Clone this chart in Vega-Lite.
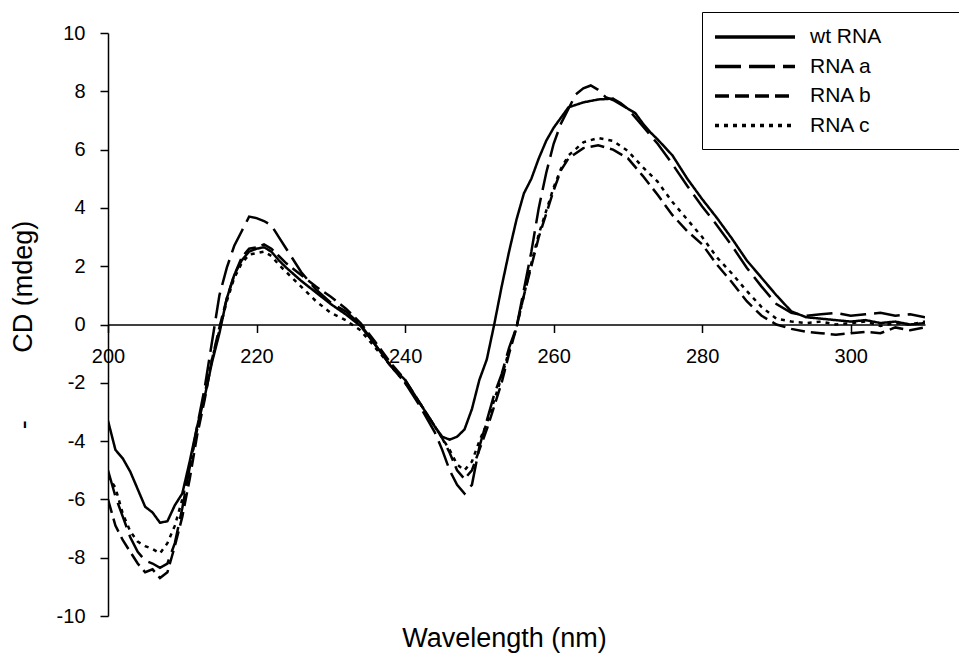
{
  "$schema": "https://vega.github.io/schema/vega-lite/v6.json",
  "width": 817,
  "height": 583,
  "autosize": {"type": "none"},
  "padding": {"left": 108, "top": 33, "right": 34, "bottom": 37},
  "background": "white",
  "config": {
    "view": {"stroke": null},
    "font": "Liberation Sans",
    "axis": {"labelFont": "Liberation Sans", "titleFont": "Liberation Sans", "labelColor": "#000", "titleColor": "#000", "domainColor": "#000", "tickColor": "#000", "grid": false, "titleFontWeight": "normal", "domainWidth": 1.5, "tickWidth": 1.5},
    "legend": {"labelFont": "Liberation Sans", "labelColor": "#000"}
  },
  "data": {
    "values": [
      {"s":"wt RNA","nm":200,"cd":-3.3},{"s":"wt RNA","nm":201,"cd":-4.3},{"s":"wt RNA","nm":202,"cd":-4.6},{"s":"wt RNA","nm":203,"cd":-5.05},{"s":"wt RNA","nm":204,"cd":-5.65},{"s":"wt RNA","nm":205,"cd":-6.25},{"s":"wt RNA","nm":206,"cd":-6.45},{"s":"wt RNA","nm":207,"cd":-6.8},{"s":"wt RNA","nm":208,"cd":-6.75},{"s":"wt RNA","nm":209,"cd":-6.2},{"s":"wt RNA","nm":210,"cd":-5.8},{"s":"wt RNA","nm":211,"cd":-4.7},{"s":"wt RNA","nm":212,"cd":-3.5},{"s":"wt RNA","nm":213,"cd":-2.5},{"s":"wt RNA","nm":214,"cd":-1.3},{"s":"wt RNA","nm":215,"cd":-0.3},{"s":"wt RNA","nm":216,"cd":0.9},{"s":"wt RNA","nm":217,"cd":1.7},{"s":"wt RNA","nm":218,"cd":2.2},{"s":"wt RNA","nm":219,"cd":2.5},{"s":"wt RNA","nm":220,"cd":2.6},{"s":"wt RNA","nm":221,"cd":2.65},{"s":"wt RNA","nm":222,"cd":2.5},{"s":"wt RNA","nm":223,"cd":2.2},{"s":"wt RNA","nm":224,"cd":1.95},{"s":"wt RNA","nm":226,"cd":1.5},{"s":"wt RNA","nm":228,"cd":1.1},{"s":"wt RNA","nm":230,"cd":0.7},{"s":"wt RNA","nm":232,"cd":0.35},{"s":"wt RNA","nm":234,"cd":-0.05},{"s":"wt RNA","nm":236,"cd":-0.7},{"s":"wt RNA","nm":238,"cd":-1.4},{"s":"wt RNA","nm":240,"cd":-1.9},{"s":"wt RNA","nm":242,"cd":-2.7},{"s":"wt RNA","nm":244,"cd":-3.5},{"s":"wt RNA","nm":245,"cd":-3.85},{"s":"wt RNA","nm":246,"cd":-3.95},{"s":"wt RNA","nm":247,"cd":-3.85},{"s":"wt RNA","nm":248,"cd":-3.6},{"s":"wt RNA","nm":249,"cd":-2.9},{"s":"wt RNA","nm":250,"cd":-1.9},{"s":"wt RNA","nm":251,"cd":-1.2},{"s":"wt RNA","nm":252,"cd":0.0},{"s":"wt RNA","nm":253,"cd":1.3},{"s":"wt RNA","nm":254,"cd":2.5},{"s":"wt RNA","nm":255,"cd":3.6},{"s":"wt RNA","nm":256,"cd":4.5},{"s":"wt RNA","nm":257,"cd":5.0},{"s":"wt RNA","nm":258,"cd":5.7},{"s":"wt RNA","nm":259,"cd":6.3},{"s":"wt RNA","nm":260,"cd":6.75},{"s":"wt RNA","nm":261,"cd":7.1},{"s":"wt RNA","nm":262,"cd":7.45},{"s":"wt RNA","nm":264,"cd":7.62},{"s":"wt RNA","nm":266,"cd":7.72},{"s":"wt RNA","nm":268,"cd":7.75},{"s":"wt RNA","nm":269,"cd":7.6},{"s":"wt RNA","nm":270,"cd":7.4},{"s":"wt RNA","nm":271,"cd":7.25},{"s":"wt RNA","nm":272,"cd":6.9},{"s":"wt RNA","nm":273,"cd":6.6},{"s":"wt RNA","nm":274,"cd":6.35},{"s":"wt RNA","nm":276,"cd":5.8},{"s":"wt RNA","nm":278,"cd":5.0},{"s":"wt RNA","nm":280,"cd":4.3},{"s":"wt RNA","nm":282,"cd":3.65},{"s":"wt RNA","nm":284,"cd":2.95},{"s":"wt RNA","nm":286,"cd":2.2},{"s":"wt RNA","nm":288,"cd":1.6},{"s":"wt RNA","nm":290,"cd":1.0},{"s":"wt RNA","nm":292,"cd":0.45},{"s":"wt RNA","nm":294,"cd":0.25},{"s":"wt RNA","nm":296,"cd":0.2},{"s":"wt RNA","nm":298,"cd":0.15},{"s":"wt RNA","nm":300,"cd":0.1},{"s":"wt RNA","nm":302,"cd":0.15},{"s":"wt RNA","nm":304,"cd":0.05},{"s":"wt RNA","nm":306,"cd":0.1},{"s":"wt RNA","nm":308,"cd":0.0},{"s":"wt RNA","nm":310,"cd":0.05},
      {"s":"RNA a","nm":200,"cd":-5.0},{"s":"RNA a","nm":201,"cd":-5.9},{"s":"RNA a","nm":202,"cd":-6.6},{"s":"RNA a","nm":203,"cd":-7.3},{"s":"RNA a","nm":204,"cd":-7.8},{"s":"RNA a","nm":205,"cd":-8.1},{"s":"RNA a","nm":206,"cd":-8.2},{"s":"RNA a","nm":207,"cd":-8.35},{"s":"RNA a","nm":208,"cd":-8.2},{"s":"RNA a","nm":209,"cd":-7.5},{"s":"RNA a","nm":210,"cd":-6.3},{"s":"RNA a","nm":211,"cd":-4.9},{"s":"RNA a","nm":212,"cd":-3.5},{"s":"RNA a","nm":213,"cd":-2.2},{"s":"RNA a","nm":214,"cd":-0.6},{"s":"RNA a","nm":215,"cd":1.0},{"s":"RNA a","nm":216,"cd":1.95},{"s":"RNA a","nm":217,"cd":2.7},{"s":"RNA a","nm":218,"cd":3.2},{"s":"RNA a","nm":219,"cd":3.7},{"s":"RNA a","nm":220,"cd":3.65},{"s":"RNA a","nm":221,"cd":3.55},{"s":"RNA a","nm":222,"cd":3.4},{"s":"RNA a","nm":223,"cd":3.0},{"s":"RNA a","nm":224,"cd":2.6},{"s":"RNA a","nm":226,"cd":1.8},{"s":"RNA a","nm":228,"cd":1.2},{"s":"RNA a","nm":230,"cd":0.75},{"s":"RNA a","nm":232,"cd":0.45},{"s":"RNA a","nm":234,"cd":0.0},{"s":"RNA a","nm":236,"cd":-0.7},{"s":"RNA a","nm":238,"cd":-1.4},{"s":"RNA a","nm":240,"cd":-2.0},{"s":"RNA a","nm":242,"cd":-2.8},{"s":"RNA a","nm":244,"cd":-3.7},{"s":"RNA a","nm":245,"cd":-4.3},{"s":"RNA a","nm":246,"cd":-5.0},{"s":"RNA a","nm":247,"cd":-5.5},{"s":"RNA a","nm":248,"cd":-5.8},{"s":"RNA a","nm":249,"cd":-5.5},{"s":"RNA a","nm":250,"cd":-4.2},{"s":"RNA a","nm":251,"cd":-3.3},{"s":"RNA a","nm":252,"cd":-2.4},{"s":"RNA a","nm":253,"cd":-1.7},{"s":"RNA a","nm":254,"cd":-0.8},{"s":"RNA a","nm":255,"cd":-0.1},{"s":"RNA a","nm":256,"cd":1.2},{"s":"RNA a","nm":257,"cd":2.5},{"s":"RNA a","nm":258,"cd":4.0},{"s":"RNA a","nm":259,"cd":5.2},{"s":"RNA a","nm":260,"cd":6.2},{"s":"RNA a","nm":261,"cd":6.9},{"s":"RNA a","nm":262,"cd":7.4},{"s":"RNA a","nm":263,"cd":7.9},{"s":"RNA a","nm":264,"cd":8.1},{"s":"RNA a","nm":265,"cd":8.2},{"s":"RNA a","nm":266,"cd":8.05},{"s":"RNA a","nm":267,"cd":7.8},{"s":"RNA a","nm":268,"cd":7.7},{"s":"RNA a","nm":270,"cd":7.4},{"s":"RNA a","nm":272,"cd":6.8},{"s":"RNA a","nm":274,"cd":6.2},{"s":"RNA a","nm":276,"cd":5.5},{"s":"RNA a","nm":278,"cd":4.75},{"s":"RNA a","nm":280,"cd":4.05},{"s":"RNA a","nm":282,"cd":3.4},{"s":"RNA a","nm":284,"cd":2.7},{"s":"RNA a","nm":286,"cd":1.95},{"s":"RNA a","nm":288,"cd":1.3},{"s":"RNA a","nm":290,"cd":0.7},{"s":"RNA a","nm":292,"cd":0.4},{"s":"RNA a","nm":294,"cd":0.3},{"s":"RNA a","nm":296,"cd":0.35},{"s":"RNA a","nm":298,"cd":0.4},{"s":"RNA a","nm":300,"cd":0.3},{"s":"RNA a","nm":302,"cd":0.35},{"s":"RNA a","nm":304,"cd":0.4},{"s":"RNA a","nm":306,"cd":0.3},{"s":"RNA a","nm":308,"cd":0.35},{"s":"RNA a","nm":310,"cd":0.25},
      {"s":"RNA b","nm":200,"cd":-6.0},{"s":"RNA b","nm":201,"cd":-6.9},{"s":"RNA b","nm":202,"cd":-7.4},{"s":"RNA b","nm":203,"cd":-7.8},{"s":"RNA b","nm":204,"cd":-8.2},{"s":"RNA b","nm":205,"cd":-8.5},{"s":"RNA b","nm":206,"cd":-8.4},{"s":"RNA b","nm":207,"cd":-8.7},{"s":"RNA b","nm":208,"cd":-8.5},{"s":"RNA b","nm":209,"cd":-7.6},{"s":"RNA b","nm":210,"cd":-6.6},{"s":"RNA b","nm":211,"cd":-5.3},{"s":"RNA b","nm":212,"cd":-3.8},{"s":"RNA b","nm":213,"cd":-2.6},{"s":"RNA b","nm":214,"cd":-1.2},{"s":"RNA b","nm":215,"cd":-0.1},{"s":"RNA b","nm":216,"cd":0.9},{"s":"RNA b","nm":217,"cd":1.7},{"s":"RNA b","nm":218,"cd":2.3},{"s":"RNA b","nm":219,"cd":2.6},{"s":"RNA b","nm":220,"cd":2.65},{"s":"RNA b","nm":221,"cd":2.75},{"s":"RNA b","nm":222,"cd":2.6},{"s":"RNA b","nm":223,"cd":2.35},{"s":"RNA b","nm":224,"cd":2.1},{"s":"RNA b","nm":226,"cd":1.7},{"s":"RNA b","nm":228,"cd":1.3},{"s":"RNA b","nm":230,"cd":0.95},{"s":"RNA b","nm":232,"cd":0.55},{"s":"RNA b","nm":234,"cd":0.05},{"s":"RNA b","nm":236,"cd":-0.6},{"s":"RNA b","nm":238,"cd":-1.3},{"s":"RNA b","nm":240,"cd":-1.9},{"s":"RNA b","nm":242,"cd":-2.7},{"s":"RNA b","nm":244,"cd":-3.5},{"s":"RNA b","nm":245,"cd":-3.9},{"s":"RNA b","nm":246,"cd":-4.4},{"s":"RNA b","nm":247,"cd":-5.0},{"s":"RNA b","nm":248,"cd":-5.3},{"s":"RNA b","nm":249,"cd":-5.0},{"s":"RNA b","nm":250,"cd":-4.3},{"s":"RNA b","nm":251,"cd":-3.6},{"s":"RNA b","nm":252,"cd":-2.8},{"s":"RNA b","nm":253,"cd":-2.0},{"s":"RNA b","nm":254,"cd":-1.0},{"s":"RNA b","nm":255,"cd":-0.1},{"s":"RNA b","nm":256,"cd":1.0},{"s":"RNA b","nm":257,"cd":2.0},{"s":"RNA b","nm":258,"cd":3.0},{"s":"RNA b","nm":259,"cd":3.8},{"s":"RNA b","nm":260,"cd":4.6},{"s":"RNA b","nm":261,"cd":5.3},{"s":"RNA b","nm":262,"cd":5.7},{"s":"RNA b","nm":264,"cd":6.05},{"s":"RNA b","nm":266,"cd":6.15},{"s":"RNA b","nm":268,"cd":6.0},{"s":"RNA b","nm":270,"cd":5.7},{"s":"RNA b","nm":272,"cd":5.1},{"s":"RNA b","nm":274,"cd":4.45},{"s":"RNA b","nm":276,"cd":3.75},{"s":"RNA b","nm":278,"cd":3.2},{"s":"RNA b","nm":280,"cd":2.75},{"s":"RNA b","nm":282,"cd":2.05},{"s":"RNA b","nm":284,"cd":1.45},{"s":"RNA b","nm":286,"cd":0.8},{"s":"RNA b","nm":288,"cd":0.3},{"s":"RNA b","nm":290,"cd":0.0},{"s":"RNA b","nm":292,"cd":-0.15},{"s":"RNA b","nm":294,"cd":-0.25},{"s":"RNA b","nm":296,"cd":-0.3},{"s":"RNA b","nm":298,"cd":-0.35},{"s":"RNA b","nm":300,"cd":-0.3},{"s":"RNA b","nm":302,"cd":-0.25},{"s":"RNA b","nm":304,"cd":-0.3},{"s":"RNA b","nm":306,"cd":-0.1},{"s":"RNA b","nm":308,"cd":-0.2},{"s":"RNA b","nm":310,"cd":-0.1},
      {"s":"RNA c","nm":200,"cd":-5.2},{"s":"RNA c","nm":201,"cd":-5.6},{"s":"RNA c","nm":202,"cd":-6.5},{"s":"RNA c","nm":203,"cd":-7.1},{"s":"RNA c","nm":204,"cd":-7.45},{"s":"RNA c","nm":205,"cd":-7.6},{"s":"RNA c","nm":206,"cd":-7.7},{"s":"RNA c","nm":207,"cd":-7.85},{"s":"RNA c","nm":208,"cd":-7.5},{"s":"RNA c","nm":209,"cd":-6.9},{"s":"RNA c","nm":210,"cd":-6.0},{"s":"RNA c","nm":211,"cd":-4.9},{"s":"RNA c","nm":212,"cd":-3.6},{"s":"RNA c","nm":213,"cd":-2.4},{"s":"RNA c","nm":214,"cd":-1.2},{"s":"RNA c","nm":215,"cd":-0.2},{"s":"RNA c","nm":216,"cd":0.8},{"s":"RNA c","nm":217,"cd":1.6},{"s":"RNA c","nm":218,"cd":2.1},{"s":"RNA c","nm":219,"cd":2.4},{"s":"RNA c","nm":220,"cd":2.45},{"s":"RNA c","nm":221,"cd":2.5},{"s":"RNA c","nm":222,"cd":2.35},{"s":"RNA c","nm":223,"cd":2.05},{"s":"RNA c","nm":224,"cd":1.8},{"s":"RNA c","nm":226,"cd":1.3},{"s":"RNA c","nm":228,"cd":0.8},{"s":"RNA c","nm":230,"cd":0.4},{"s":"RNA c","nm":232,"cd":0.15},{"s":"RNA c","nm":234,"cd":-0.2},{"s":"RNA c","nm":236,"cd":-0.8},{"s":"RNA c","nm":238,"cd":-1.4},{"s":"RNA c","nm":240,"cd":-2.0},{"s":"RNA c","nm":242,"cd":-2.7},{"s":"RNA c","nm":244,"cd":-3.5},{"s":"RNA c","nm":245,"cd":-3.9},{"s":"RNA c","nm":246,"cd":-4.3},{"s":"RNA c","nm":247,"cd":-4.8},{"s":"RNA c","nm":248,"cd":-5.0},{"s":"RNA c","nm":249,"cd":-4.7},{"s":"RNA c","nm":250,"cd":-4.0},{"s":"RNA c","nm":251,"cd":-3.4},{"s":"RNA c","nm":252,"cd":-2.6},{"s":"RNA c","nm":253,"cd":-1.8},{"s":"RNA c","nm":254,"cd":-0.9},{"s":"RNA c","nm":255,"cd":-0.1},{"s":"RNA c","nm":256,"cd":1.0},{"s":"RNA c","nm":257,"cd":2.1},{"s":"RNA c","nm":258,"cd":3.1},{"s":"RNA c","nm":259,"cd":3.9},{"s":"RNA c","nm":260,"cd":4.7},{"s":"RNA c","nm":261,"cd":5.35},{"s":"RNA c","nm":262,"cd":5.8},{"s":"RNA c","nm":264,"cd":6.25},{"s":"RNA c","nm":266,"cd":6.4},{"s":"RNA c","nm":268,"cd":6.3},{"s":"RNA c","nm":270,"cd":5.95},{"s":"RNA c","nm":272,"cd":5.4},{"s":"RNA c","nm":274,"cd":4.9},{"s":"RNA c","nm":276,"cd":4.2},{"s":"RNA c","nm":278,"cd":3.6},{"s":"RNA c","nm":280,"cd":3.0},{"s":"RNA c","nm":282,"cd":2.3},{"s":"RNA c","nm":284,"cd":1.75},{"s":"RNA c","nm":286,"cd":1.15},{"s":"RNA c","nm":288,"cd":0.6},{"s":"RNA c","nm":290,"cd":0.2},{"s":"RNA c","nm":292,"cd":0.1},{"s":"RNA c","nm":294,"cd":0.05},{"s":"RNA c","nm":296,"cd":0.1},{"s":"RNA c","nm":298,"cd":0.0},{"s":"RNA c","nm":300,"cd":0.05},{"s":"RNA c","nm":302,"cd":0.1},{"s":"RNA c","nm":304,"cd":-0.05},{"s":"RNA c","nm":306,"cd":0.05},{"s":"RNA c","nm":308,"cd":0.0},{"s":"RNA c","nm":310,"cd":0.1}
    ]
  },
  "mark": {"type": "line", "color": "#000", "strokeWidth": 2.5, "clip": true},
  "encoding": {
    "x": {
      "field": "nm", "type": "quantitative",
      "scale": {"domain": [200, 310], "nice": false, "zero": false},
      "axis": {
        "values": [200, 220, 240, 260, 280, 300],
        "offset": -291.5,
        "tickSize": 8,
        "labelPadding": 14,
        "labelFontSize": 20,
        "labelFlush": false,
        "title": "Wavelength (nm)",
        "titleFontSize": 27,
        "titleX": 396,
        "titleY": 322,
        "titleAlign": "center",
        "titleBaseline": "alphabetic"
      }
    },
    "y": {
      "field": "cd", "type": "quantitative",
      "scale": {"domain": [-10, 10], "nice": false},
      "axis": {
        "values": [-10, -8, -6, -4, -2, 0, 2, 4, 6, 8, 10],
        "labelExpr": "'' + datum.value",
        "tickSize": 8,
        "labelPadding": 15,
        "labelFontSize": 20,
        "title": "-\u00a0\u00a0\u00a0\u00a0\u00a0\u00a0\u00a0\u00a0\u00a0CD (mdeg)",
        "titleFontSize": 27,
        "titleX": -71,
        "titleBaseline": "bottom"
      }
    },
    "strokeDash": {
      "field": "s", "type": "nominal",
      "scale": {"domain": ["wt RNA", "RNA a", "RNA b", "RNA c"], "range": [[1, 0], [26, 8], [14, 6], [4, 5]]},
      "legend": {
        "title": null,
        "orient": "none",
        "legendX": 594,
        "legendY": -21,
        "symbolType": "M-4,0H4",
        "symbolSize": 400,
        "symbolOffset": 28,
        "symbolStrokeWidth": 3.5,
        "symbolStrokeColor": "#000",
        "symbolFillColor": "transparent",
        "labelFontSize": 21,
        "labelOffset": 43,
        "labelLimit": 400,
        "labelExpr": "datum.label + '\u00a0\u00a0\u00a0\u00a0\u00a0\u00a0\u00a0\u00a0\u00a0\u00a0\u00a0\u00a0\u200b'",
        "padding": 13,
        "rowPadding": 7.5,
        "strokeColor": "#000",
        "fillColor": "#fff"
      }
    }
  }
}
